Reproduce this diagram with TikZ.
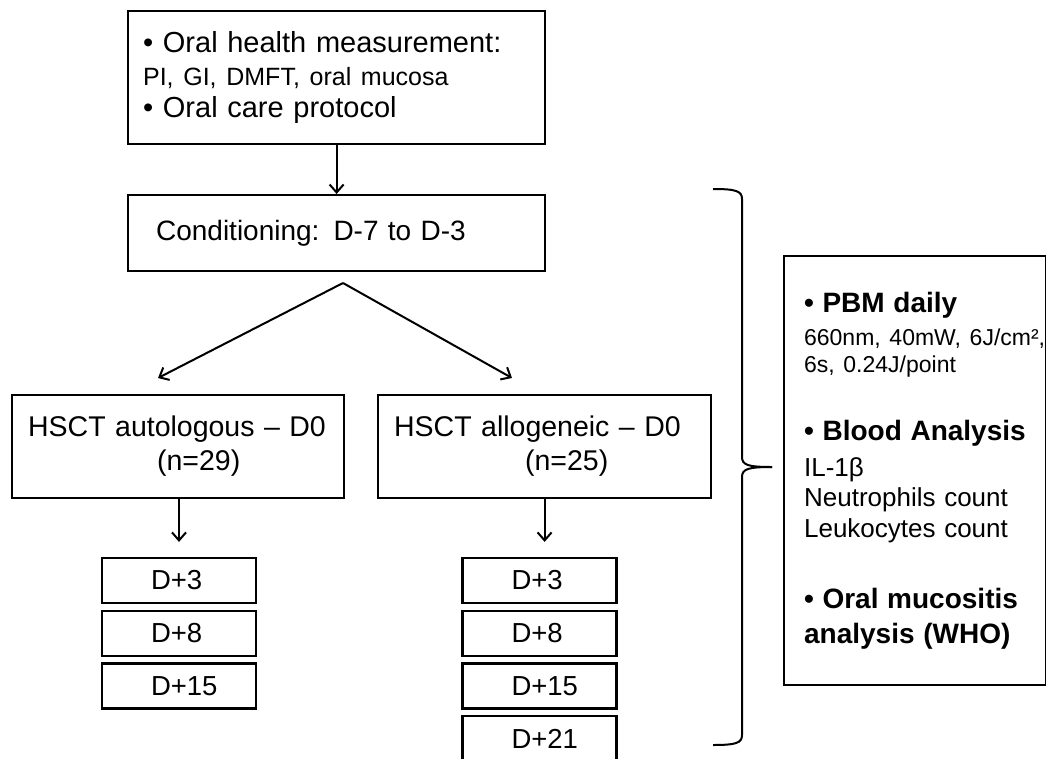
\documentclass[tikz,border=0pt]{standalone}
\usepackage{fontspec}
\setmainfont{Liberation Sans}
\usetikzlibrary{arrows.meta, positioning}

\tikzset{
  box/.style={rectangle, draw, line width=2.2pt, inner ysep=0pt, anchor=north west, align=left},
  dbox/.style={box, anchor=center, minimum height=45pt, text width=56pt, inner xsep=49pt, font=\fontsize{27.5}{32}\selectfont},
  arr/.style={-{Straight Barb[length=8pt, width=14pt]}, line width=2pt},
}

\begin{document}
\begin{tikzpicture}[x=1pt, y=-1pt, node distance=52.7pt, font=\fontsize{28.5}{34}\selectfont]
    \useasboundingbox (0,0) rectangle (1046,758);
    \clip (0,0) rectangle (1046,758);

    % Baseline
    \node[box, minimum width=417pt, minimum height=133pt, text width=387pt, inner xsep=15pt, font=\fontsize{29}{32.5}\selectfont] (health) at (127,10) {• Oral health measurement:\\{\fontsize{25}{32.5}\selectfont PI, GI, DMFT, oral mucosa}\\• Oral care protocol};

    % Conditioning
    \node[box, minimum width=417pt, minimum height=76pt, text width=361pt, inner xsep=28pt, font=\fontsize{28}{34}\selectfont] (cond) at (127,194) {\mbox{Conditioning: D-7 to D-3}};
    \draw[arr] (health) -- (cond);

    % Transplant groups
    \node[box, minimum width=332pt, minimum height=103pt, text width=300pt, inner xsep=16pt] (auto) at (11,394) {\mbox{HSCT autologous – D0}\\\hspace*{129pt}(n=29)};
    \node[box, minimum width=333pt, minimum height=103pt, text width=301pt, inner xsep=16pt] (allo) at (377,394) {\mbox{HSCT allogeneic – D0}\\\hspace*{131pt}(n=25)};
    \coordinate (fork) at (343,283);
    \coordinate (autotip) at (158,378);
    \coordinate (allotip) at (512,378);
    \draw[arr] (fork) -- (autotip);
    \draw[arr] (fork) -- (allotip);

    % Follow-up days
    \node[dbox] (aD3) at (179,580.5) {D+3};
    \node[dbox, below of=aD3] (aD8) {D+8};
    \node[dbox, below of=aD8] (aD15) {D+15};
    \node[dbox] (bD3) at (539.5,580.5) {D+3};
    \node[dbox, below of=bD3] (bD8) {D+8};
    \node[dbox, below of=bD8] (bD15) {D+15};
    \node[dbox, below of=bD15] (bD21) {D+21};
    \draw[arr, shorten >=15pt] (aD3.north |- auto.south) -- (aD3.north);
    \draw[arr, shorten >=15pt] (allo.south) -- (allo.south |- bD3.north);

    % Brace
    \draw[line width=2pt] (713,189) .. controls (736,189) and (742,191) .. (742,199) -- (742,457) .. controls (742,465) and (748,467) .. (772,467);
    \draw[line width=2pt] (772,467) .. controls (748,467) and (742,469) .. (742,477) -- (742,735) .. controls (742,743) and (736,745) .. (713,745);

    % Measurements
    \node[box, minimum width=262pt, minimum height=429pt, text width=222pt, inner xsep=20pt, font=\fontsize{26}{31}\selectfont] (meas) at (783,255) {%
      {\fontsize{28}{31}\selectfont\bfseries • PBM daily}\\[2pt]
      {\fontsize{23}{31}\selectfont\mbox{660nm, 40mW, 6J/cm²,}}\\[-4pt]
      {\fontsize{23}{31}\selectfont 6s, 0.24J/point}\\[37pt]
      {\fontsize{28}{31}\selectfont\bfseries • Blood Analysis}\\[5pt]
      IL-1β\\[-1pt]
      Neutrophils count\\
      Leukocytes count\\[40pt]
      {\fontsize{28}{31}\selectfont\bfseries • Oral mucositis}\\[4pt]
      {\fontsize{28}{31}\selectfont\bfseries analysis (WHO)}};
\end{tikzpicture}
\end{document}
